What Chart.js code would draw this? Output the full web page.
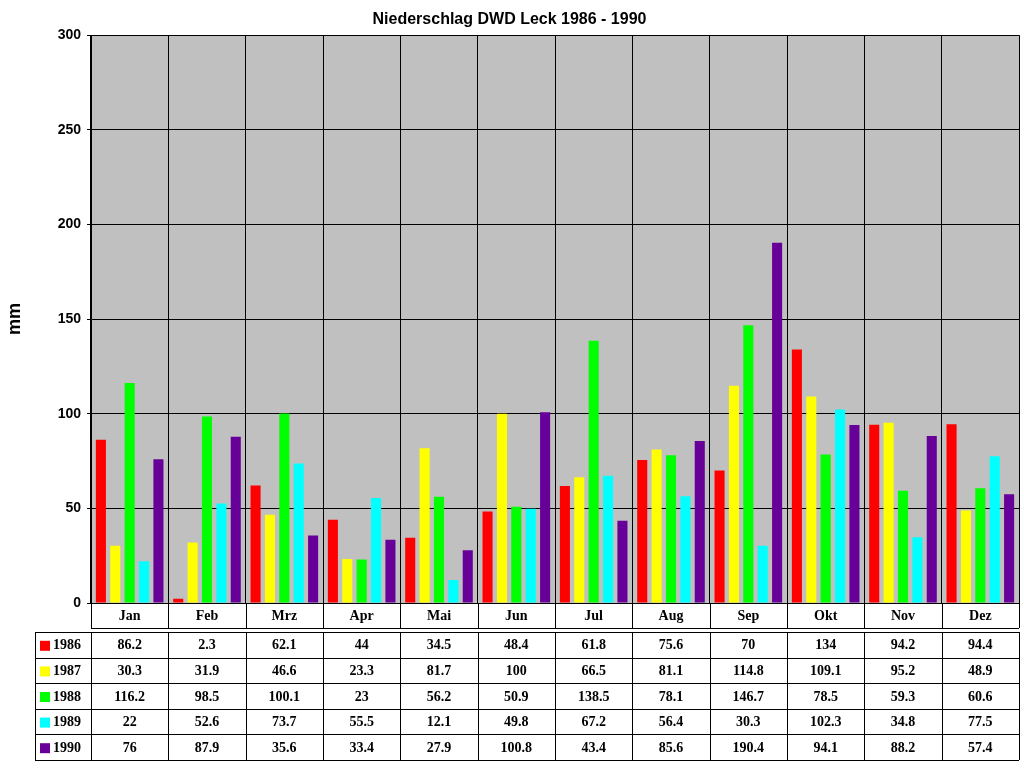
<!DOCTYPE html>
<html><head><meta charset="utf-8">
<script src="https://cdn.jsdelivr.net/npm/chart.js@4"></script>
<style>html,body{margin:0;background:#fff}#w{width:1024px;height:768px}</style>
</head><body><div id="w"><canvas id="c"></canvas></div>
<script>
const months=["Jan","Feb","Mrz","Apr","Mai","Jun","Jul","Aug","Sep","Okt","Nov","Dez"];
const years=["1986","1987","1988","1989","1990"];
const colors=["#FF0000","#FFFF00","#00FF00","#00FFFF","#660099"];
const v1986=[86.2,2.3,62.1,44,34.5,48.4,61.8,75.6,70,134,94.2,94.4];
const v1987=[30.3,31.9,46.6,23.3,81.7,100,66.5,81.1,114.8,109.1,95.2,48.9];
const v1988=[116.2,98.5,100.1,23,56.2,50.9,138.5,78.1,146.7,78.5,59.3,60.6];
const v1989=[22,52.6,73.7,55.5,12.1,49.8,67.2,56.4,30.3,102.3,34.8,77.5];
const v1990=[76,87.9,35.6,33.4,27.9,100.8,43.4,85.6,190.4,94.1,88.2,57.4];
const series=[v1986,v1987,v1988,v1989,v1990];
const yTicks=[0,50,100,150,200,250,300];

const tablePlugin={id:'tbl',
beforeDraw(ch){const a=ch.chartArea,c=ch.ctx;c.save();c.fillStyle='#C0C0C0';c.fillRect(a.left,a.top,a.right-a.left,a.bottom-a.top);c.restore();},
afterDraw(ch){
 const c=ch.ctx,a=ch.chartArea,x=ch.scales.x;const n=months.length;const w=(a.right-a.left)/n;
 c.save();c.strokeStyle='#000';c.lineWidth=1;c.fillStyle='#000';
 c.font='bold 14px "Liberation Serif", serif';c.textAlign='center';c.textBaseline='middle';
 // header row
 const hTop=a.bottom,hBot=a.bottom+25;
 c.beginPath();
 for(let i=0;i<=n;i++){const px=Math.round(a.left+i*w)+0.5;c.moveTo(px,hTop);c.lineTo(px,hBot);}
 c.moveTo(a.left,hBot+0.5);c.lineTo(a.right,hBot+0.5);c.stroke();
 months.forEach((m,i)=>c.fillText(m,x.getPixelForValue(i),hTop+13));
 // data rows
 const t0=632,rh=25.6,left=35;
 c.beginPath();
 for(let r=0;r<=years.length;r++){const py=Math.round(t0+r*rh)+0.5;c.moveTo(left,py);c.lineTo(a.right,py);}
 c.moveTo(left+0.5,t0);c.lineTo(left+0.5,t0+years.length*rh);
 for(let i=0;i<=n;i++){const px=Math.round(a.left+i*w)+0.5;c.moveTo(px,t0);c.lineTo(px,t0+years.length*rh);}
 c.stroke();
 years.forEach((y,r)=>{const cy=t0+r*rh+rh/2+1;
  c.fillStyle=colors[r];c.fillRect(40,cy-5,10,10);
  c.fillStyle='#000';c.textAlign='left';c.fillText(y,53,cy);c.textAlign='center';
  series[r].forEach((v,i)=>c.fillText(String(v),x.getPixelForValue(i),cy));});
 c.restore();}};

new Chart(document.getElementById('c'),{type:'bar',
data:{labels:months,datasets:years.map((y,i)=>({label:y,data:series[i],backgroundColor:colors[i],borderWidth:0}))},
options:{responsive:true,maintainAspectRatio:false,animation:false,
 layout:{padding:{left:0,right:5,top:0,bottom:165}},
 datasets:{bar:{categoryPercentage:0.93,barPercentage:0.7}},
 plugins:{legend:{display:false},tooltip:{enabled:false},
  title:{display:true,text:'Niederschlag DWD Leck 1986 - 1990',color:'#000',font:{family:'Arial, "Liberation Sans"',size:16,weight:'bold'},padding:{top:10,bottom:6}}},
 scales:{
  x:{ticks:{display:false},grid:{offset:true,color:'#000',drawTicks:false},border:{color:'#000'}},
  y:{min:0,max:300,afterBuildTicks:s=>{s.ticks=yTicks.map(v=>({value:v}));},
   afterFit:s=>{s.width=91;},
   ticks:{color:'#000',font:{family:'Arial, "Liberation Sans"',size:14,weight:'bold'},padding:6},
   grid:{color:'#000',drawTicks:true,tickLength:4},border:{color:'#000'},
   title:{display:true,text:'mm',color:'#000',font:{family:'Arial, "Liberation Sans"',size:18,weight:'bold'},padding:4}}}},
plugins:[tablePlugin]});
</script></body></html>
